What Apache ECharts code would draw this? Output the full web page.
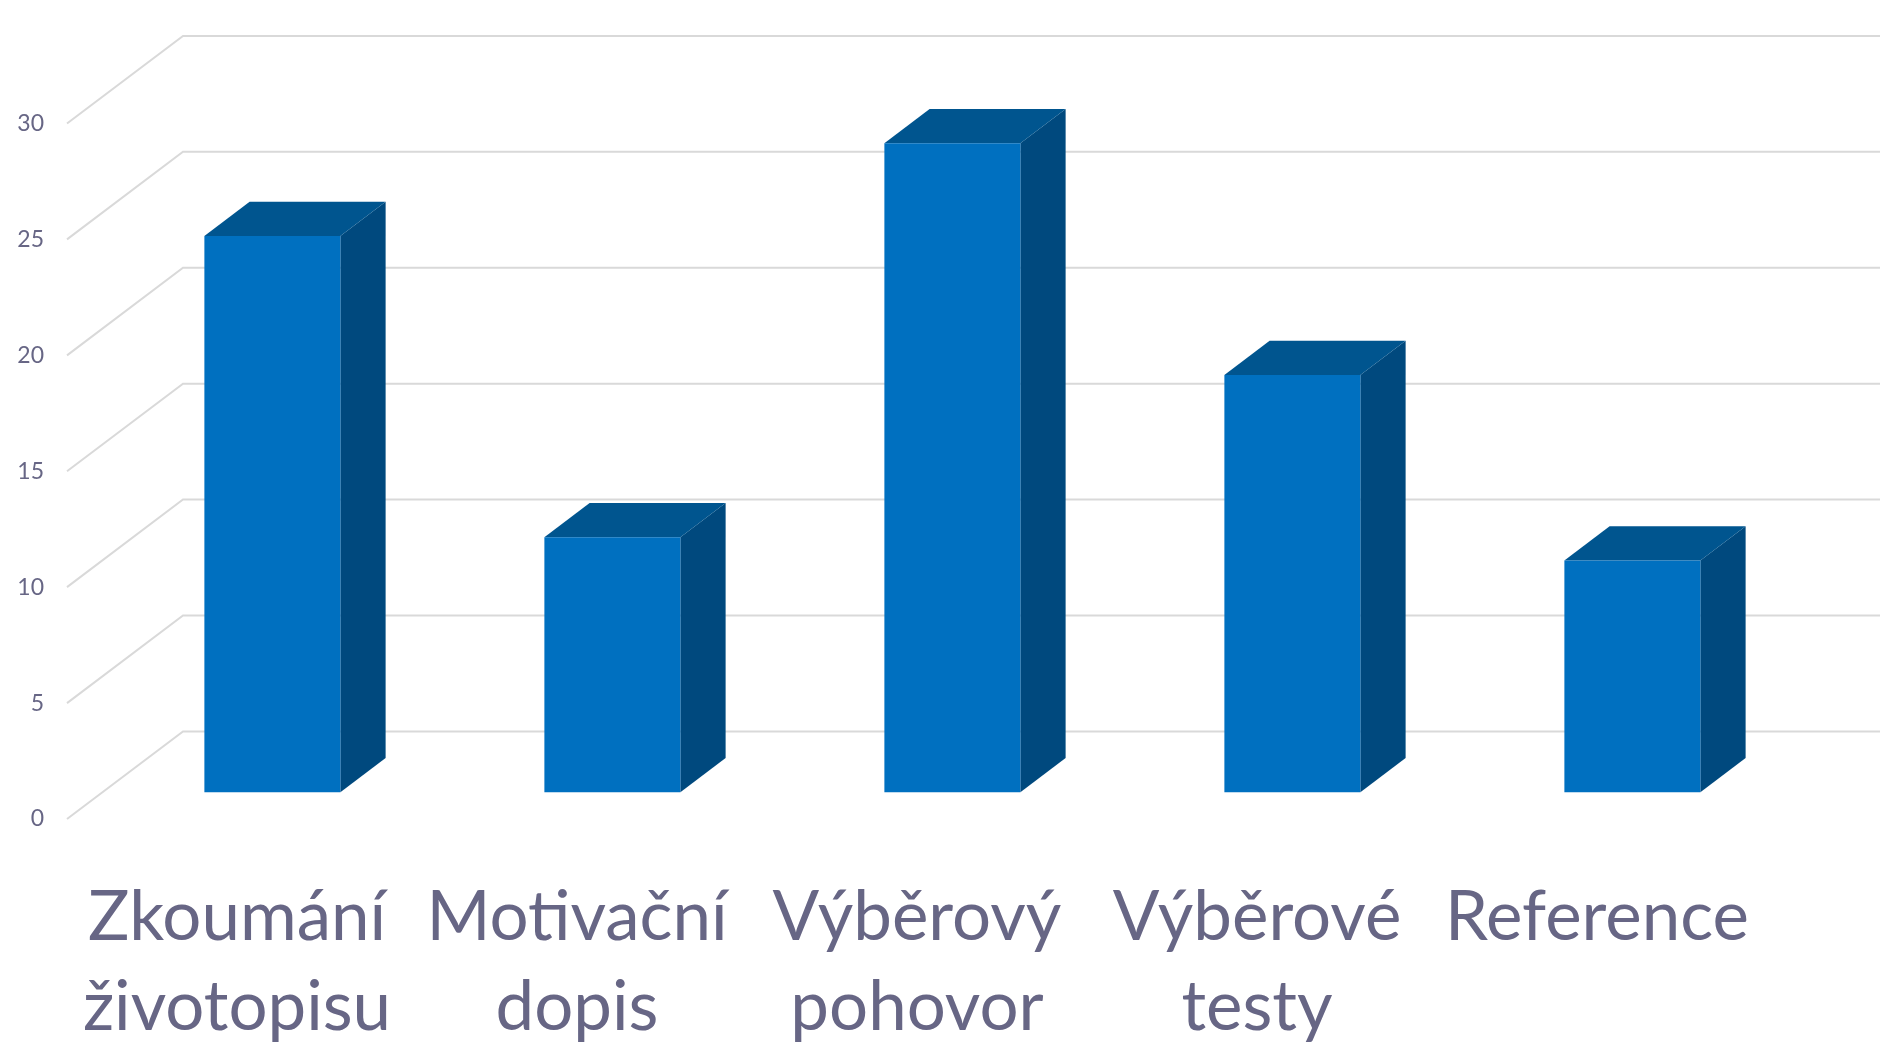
<!DOCTYPE html>
<html>
<head>
<meta charset="utf-8">
<script src="https://cdn.jsdelivr.net/npm/echarts@6/dist/echarts.min.js"></script>
<style>
html,body{margin:0;padding:0;background:#fff;}
#chart{width:1880px;height:1049px;}
</style>
</head>
<body>
<div id="chart"></div>
<script>
const categories = ['Zkoumání\nživotopisu', 'Motivační\ndopis', 'Výběrový\npohovor', 'Výběrové\ntesty', 'Reference'];
const values = [24, 11, 28, 18, 10];
const yTicks = [0, 5, 10, 15, 20, 25, 30];

// oblique depth of the 3D box (pixels)
const DEPTH_X = 116, DEPTH_Y = -87.6;
const BAR_FRONT = 0.305, BAR_BACK = 0.695;
const TEXT_COLOR = '#676685';

const chart = echarts.init(document.getElementById('chart'));

function gridRender(params, api) {
  const v = api.value(0);
  const cs = params.coordSys;
  const p = api.coord([0, v]);
  const x0 = cs.x, y0 = p[1];
  const x1 = x0 + DEPTH_X, y1 = y0 + DEPTH_Y;
  const x2 = cs.x + cs.width + DEPTH_X + 10;
  return {
    type: 'polyline',
    shape: { points: [[x0, y0], [x1, y1], [x2, y1]] },
    style: { stroke: '#d9d9d9', lineWidth: 2, fill: null }
  };
}

function barRender(params, api) {
  const idx = api.value(0);
  const val = api.value(1);
  const top = api.coord([idx, val]);
  const base = api.coord([idx, 0]);
  const band = api.size([1, 0])[0];
  const hw = band * 0.2;
  const fx = DEPTH_X * BAR_FRONT, fy = DEPTH_Y * BAR_FRONT;
  const bx = DEPTH_X * BAR_BACK, by = DEPTH_Y * BAR_BACK;
  const xl = top[0] - hw, xr = top[0] + hw;
  const yt = top[1], yb = base[1];
  const front = [[xl + fx, yt + fy], [xr + fx, yt + fy], [xr + fx, yb + fy], [xl + fx, yb + fy]];
  const topFace = [[xl + fx, yt + fy], [xr + fx, yt + fy], [xr + bx, yt + by], [xl + bx, yt + by]];
  const side = [[xr + fx, yt + fy], [xr + bx, yt + by], [xr + bx, yb + by], [xr + fx, yb + fy]];
  return {
    type: 'group',
    children: [
      { type: 'polygon', shape: { points: side }, style: { fill: '#00497e' } },
      { type: 'polygon', shape: { points: topFace }, style: { fill: '#00558f' } },
      { type: 'polygon', shape: { points: front }, style: { fill: '#0070c0' } }
    ]
  };
}

chart.setOption({
  animation: false,
  backgroundColor: '#ffffff',
  grid: { left: 67, right: 113, top: 123.5, bottom: 230, containLabel: false, outerBoundsMode: 'none' },
  xAxis: {
    type: 'category',
    data: categories,
    axisLine: { show: false },
    axisTick: { show: false },
    splitLine: { show: false },
    axisLabel: {
      interval: 0,
      margin: 54,
      color: TEXT_COLOR,
      fontFamily: 'Lato',
      fontSize: 69,
      lineHeight: 90,
      align: 'center'
    }
  },
  yAxis: {
    type: 'value',
    min: 0,
    max: 30,
    interval: 5,
    axisLine: { show: false },
    axisTick: { show: false },
    splitLine: { show: false },
    axisLabel: {
      margin: 23,
      color: TEXT_COLOR,
      fontFamily: 'Lato',
      fontSize: 23,
      padding: [4, 0, 0, 0]
    }
  },
  series: [
    {
      type: 'custom',
      renderItem: gridRender,
      data: yTicks.map(v => [v]),
      encode: { y: 0 },
      clip: false,
      silent: true,
      z: 1
    },
    {
      type: 'custom',
      renderItem: barRender,
      data: values.map((v, i) => [i, v]),
      encode: { x: 0, y: 1 },
      clip: false,
      z: 2
    }
  ]
});
</script>
</body>
</html>
